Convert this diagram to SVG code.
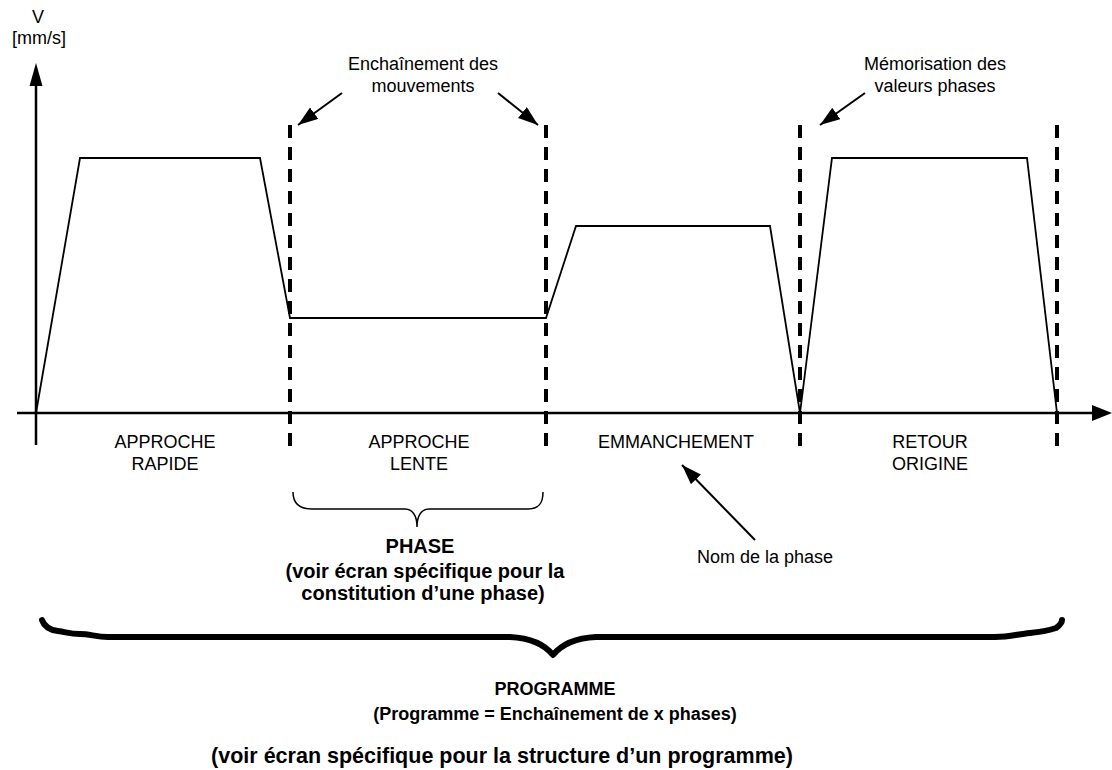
<svg xmlns="http://www.w3.org/2000/svg" width="1112" height="770" viewBox="0 0 1112 770">
<style>
.t{font-family:"Liberation Sans",Arial,sans-serif;font-size:18px;fill:#000;text-anchor:middle}
.b{font-family:"Liberation Sans",Arial,sans-serif;font-size:20px;font-weight:bold;fill:#000;text-anchor:middle}
.ax{stroke:#000;stroke-width:2.5;fill:none}
.prof{stroke:#000;stroke-width:1.8;fill:none;stroke-linejoin:miter}
.dash{stroke:#000;stroke-width:4;stroke-dasharray:13 9;fill:none}
.arr{stroke:#000;stroke-width:2;fill:none;marker-end:url(#ah)}
</style>
<defs>
<marker id="ah" markerUnits="userSpaceOnUse" markerWidth="22" markerHeight="16" refX="20" refY="7" orient="auto">
<path d="M0,0 L20,7 L0,14 z" fill="#000"/>
</marker>
</defs>
<rect width="1112" height="770" fill="#fff"/>
<g id="axes">
<line class="ax" x1="36" y1="84" x2="36" y2="445"/>
<path d="M36,63 L42.5,86 L29.5,86 z" fill="#000"/>
<line class="ax" x1="17" y1="413" x2="1094" y2="413"/>
<path d="M1112,413 L1092,405 L1092,421 z" fill="#000"/>
<text class="t" x="38" y="23">V</text>
<text class="t" x="39" y="44">[mm/s]</text>
</g>
<g id="profile">
<polyline class="prof" points="36,413 80,158 260,158 290,318 546,318 576,226 770,226 800,413 832,158 1027,158 1057,413"/>
</g>
<g id="separators">
<line class="dash" x1="290" y1="125" x2="290" y2="452"/>
<line class="dash" x1="546" y1="125" x2="546" y2="452"/>
<line class="dash" x1="800" y1="125" x2="800" y2="452"/>
<line class="dash" x1="1057" y1="125" x2="1057" y2="452"/>
</g>
<g id="connectors">
<line class="arr" x1="342" y1="93" x2="298" y2="125"/>
<line class="arr" x1="498" y1="93" x2="538" y2="125"/>
<line class="arr" x1="865" y1="93" x2="820" y2="125"/>
<line class="arr" x1="755" y1="540" x2="682" y2="465"/>
</g>
<g id="label-enchainement">
<text class="t" x="423" y="70">Enchaînement des</text>
<text class="t" x="423" y="92">mouvements</text>
</g>
<g id="label-memorisation">
<text class="t" x="935" y="70">Mémorisation des</text>
<text class="t" x="935" y="92">valeurs phases</text>
</g>
<g id="phase-approche-rapide">
<text class="t" x="165" y="448">APPROCHE</text>
<text class="t" x="165" y="470">RAPIDE</text>
</g>
<g id="phase-approche-lente">
<text class="t" x="419" y="448">APPROCHE</text>
<text class="t" x="419" y="470">LENTE</text>
</g>
<g id="phase-emmanchement">
<text class="t" x="676" y="448">EMMANCHEMENT</text>
</g>
<g id="phase-retour-origine">
<text class="t" x="930" y="448">RETOUR</text>
<text class="t" x="930" y="470">ORIGINE</text>
</g>
<g id="label-nom">
<text class="t" x="765" y="563">Nom de la phase</text>
</g>
<g id="brace-phase">
<path d="M293,492 C293,502 298,509 312,509 L405,509 C412,509 417,515 417,527 C417,515 422,509 429,509 L528,509 C540,509 543,502 543,492" fill="none" stroke="#000" stroke-width="1.5"/>
<text class="b" x="420" y="553">PHASE</text>
<text class="b" x="425" y="578">(voir écran spécifique pour la</text>
<text class="b" x="423" y="600">constitution d’une phase)</text>
</g>
<g id="brace-programme">
<path d="M42,620 C44,626 50,630 58,631 C66,632 70,634 80,634 C90,634 96,637 108,637 L510,637 C530,638 545,645 553,655 C561,645 576,638 596,637 L995,637 C1010,637 1018,634 1030,633 C1042,632 1050,630 1056,628 C1060,625 1062,622 1062,620" fill="none" stroke="#000" stroke-width="6" stroke-linecap="round" stroke-linejoin="round"/>
<text class="b" x="555" y="695" style="font-size:18px">PROGRAMME</text>
<text class="b" x="555" y="720" style="font-size:18px">(Programme = Enchaînement de x phases)</text>
<text class="b" x="502" y="763" style="font-size:21.5px">(voir écran spécifique pour la structure d’un programme)</text>
</g>
</svg>
